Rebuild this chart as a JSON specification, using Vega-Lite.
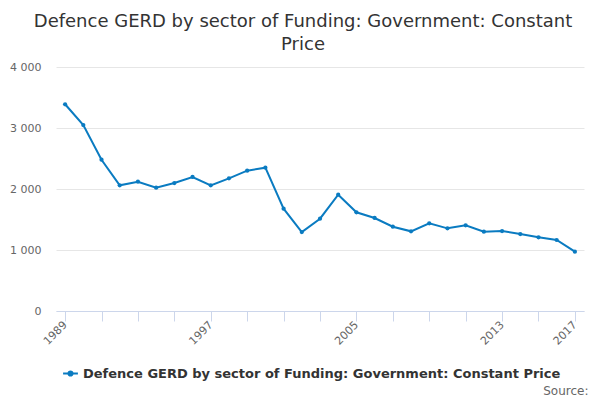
{
  "$schema": "https://vega.github.io/schema/vega-lite/v6.json",
  "autosize": "none",
  "width": 528,
  "height": 244,
  "padding": {"left": 56, "top": 67, "right": 16, "bottom": 89},
  "background": "white",
  "title": {
    "text": ["Defence GERD by sector of Funding: Government: Constant", "Price"],
    "anchor": "middle",
    "dx": -17,
    "offset": 7,
    "fontSize": 18,
    "fontWeight": "normal",
    "font": "DejaVu Sans",
    "color": "#333333",
    "lineHeight": 23
  },
  "data": {
    "values": [
      {"year": 1989, "value": 3389, "series": "Defence GERD by sector of Funding: Government: Constant Price"},
      {"year": 1990, "value": 3049, "series": "Defence GERD by sector of Funding: Government: Constant Price"},
      {"year": 1991, "value": 2480, "series": "Defence GERD by sector of Funding: Government: Constant Price"},
      {"year": 1992, "value": 2060, "series": "Defence GERD by sector of Funding: Government: Constant Price"},
      {"year": 1993, "value": 2120, "series": "Defence GERD by sector of Funding: Government: Constant Price"},
      {"year": 1994, "value": 2022, "series": "Defence GERD by sector of Funding: Government: Constant Price"},
      {"year": 1995, "value": 2098, "series": "Defence GERD by sector of Funding: Government: Constant Price"},
      {"year": 1996, "value": 2197, "series": "Defence GERD by sector of Funding: Government: Constant Price"},
      {"year": 1997, "value": 2060, "series": "Defence GERD by sector of Funding: Government: Constant Price"},
      {"year": 1998, "value": 2175, "series": "Defence GERD by sector of Funding: Government: Constant Price"},
      {"year": 1999, "value": 2300, "series": "Defence GERD by sector of Funding: Government: Constant Price"},
      {"year": 2000, "value": 2350, "series": "Defence GERD by sector of Funding: Government: Constant Price"},
      {"year": 2001, "value": 1677, "series": "Defence GERD by sector of Funding: Government: Constant Price"},
      {"year": 2002, "value": 1295, "series": "Defence GERD by sector of Funding: Government: Constant Price"},
      {"year": 2003, "value": 1513, "series": "Defence GERD by sector of Funding: Government: Constant Price"},
      {"year": 2004, "value": 1907, "series": "Defence GERD by sector of Funding: Government: Constant Price"},
      {"year": 2005, "value": 1618, "series": "Defence GERD by sector of Funding: Government: Constant Price"},
      {"year": 2006, "value": 1525, "series": "Defence GERD by sector of Funding: Government: Constant Price"},
      {"year": 2007, "value": 1382, "series": "Defence GERD by sector of Funding: Government: Constant Price"},
      {"year": 2008, "value": 1306, "series": "Defence GERD by sector of Funding: Government: Constant Price"},
      {"year": 2009, "value": 1437, "series": "Defence GERD by sector of Funding: Government: Constant Price"},
      {"year": 2010, "value": 1355, "series": "Defence GERD by sector of Funding: Government: Constant Price"},
      {"year": 2011, "value": 1404, "series": "Defence GERD by sector of Funding: Government: Constant Price"},
      {"year": 2012, "value": 1300, "series": "Defence GERD by sector of Funding: Government: Constant Price"},
      {"year": 2013, "value": 1311, "series": "Defence GERD by sector of Funding: Government: Constant Price"},
      {"year": 2014, "value": 1262, "series": "Defence GERD by sector of Funding: Government: Constant Price"},
      {"year": 2015, "value": 1208, "series": "Defence GERD by sector of Funding: Government: Constant Price"},
      {"year": 2016, "value": 1164, "series": "Defence GERD by sector of Funding: Government: Constant Price"},
      {"year": 2017, "value": 972, "series": "Defence GERD by sector of Funding: Government: Constant Price"}
    ]
  },
  "mark": {"type": "line", "strokeWidth": 2, "point": {"size": 18, "filled": true}},
  "encoding": {
    "x": {
      "field": "year",
      "type": "quantitative",
      "scale": {"domain": [1988.5, 2017.5], "nice": false, "zero": false},
      "axis": {
        "values": [1989, 1991, 1993, 1995, 1997, 1999, 2001, 2003, 2005, 2007, 2009, 2011, 2013, 2015, 2017],
        "labelExpr": "((datum.value - 1989) % 8 == 0 || datum.value == 2017) ? toString(datum.value) : ''",
        "labelAngle": -45,
        "labelAlign": "right",
        "labelBaseline": "middle",
        "labelFontSize": 11,
        "labelColor": "#666666",
        "labelFont": "DejaVu Sans",
        "labelPadding": 2,
        "labelOverlap": false,
        "labelBound": false,
        "labelFlush": false,
        "grid": false,
        "domainColor": "#ccd6eb",
        "tickColor": "#ccd6eb",
        "tickSize": 10,
        "title": "Source:",
        "titleAnchor": "end",
        "titleAlign": "right",
        "titleBaseline": "alphabetic",
        "titleFontWeight": "normal",
        "titleFontSize": 12,
        "titleColor": "#666666",
        "titleFont": "DejaVu Sans",
        "titleY": 83,
        "titleX": 532
      }
    },
    "y": {
      "field": "value",
      "type": "quantitative",
      "scale": {"domain": [0, 4000], "nice": false},
      "axis": {
        "values": [0, 1000, 2000, 3000, 4000],
        "labelExpr": "replace(format(datum.value, ','), ',', ' ')",
        "domain": false,
        "ticks": false,
        "gridColor": "#e6e6e6",
        "labelFontSize": 11,
        "labelColor": "#666666",
        "labelFont": "DejaVu Sans",
        "labelPadding": 15,
        "title": null
      }
    },
    "color": {
      "field": "series",
      "type": "nominal",
      "scale": {"range": ["#0a7bc1"]},
      "legend": {
        "orient": "none",
        "legendX": 6,
        "legendY": 298,
        "title": null,
        "symbolType": "M-1,0L1,0M-0.28,0A0.28,0.28 0 1,0 0.28,0A0.28,0.28 0 1,0 -0.28,0Z",
        "symbolSize": 220,
        "symbolStrokeWidth": 2,
        "symbolFillColor": "#0a7bc1",
        "labelFontSize": 13,
        "labelFontWeight": "bold",
        "labelColor": "#333333",
        "labelFont": "DejaVu Sans",
        "labelLimit": 600,
        "labelOffset": 4
      }
    }
  },
  "config": {
    "view": {"stroke": null},
    "font": "DejaVu Sans"
  }
}
